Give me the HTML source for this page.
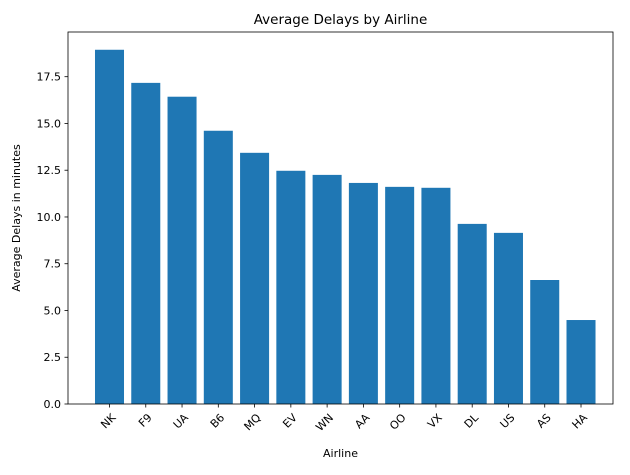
<!DOCTYPE html>
<html><head><meta charset="utf-8"><style>
body{margin:0;background:#fff;font-family:"Liberation Sans","DejaVu Sans",sans-serif;}
svg text{font-family:"DejaVu Sans","Liberation Sans",sans-serif;}
</style></head><body>
<svg id="chart" width="630" height="470" xmlns="http://www.w3.org/2000/svg"></svg>
<script>
const categories=["NK","F9","UA","B6","MQ","EV","WN","AA","OO","VX","DL","US","AS","HA"];
const delays=[18.94,17.17,16.43,14.61,13.43,12.47,12.25,11.82,11.61,11.56,9.63,9.15,6.63,4.49];
const yTicks=[0,2.5,5,7.5,10,12.5,15,17.5];
const yTickLabels=["0.0","2.5","5.0","7.5","10.0","12.5","15.0","17.5"];
const NS="http://www.w3.org/2000/svg";
const svg=document.getElementById('chart');
const L=68,R=613,T=32,B=404;
const yMax=19.89;
const x0=109.5,step=36.27;
const x=v=>x0+v*step;
const y=v=>B-v/yMax*(B-T);
function mk(tag,attrs){const e=document.createElementNS(NS,tag);for(const k in attrs)e.setAttribute(k,attrs[k]);svg.appendChild(e);return e;}
const bw=step*0.8;
delays.forEach((d,i)=>{
 const r=mk('rect',{x:x(i)-bw/2,y:y(d),width:bw,height:B-y(d),fill:'#1f77b4'});
 
 
 mk('line',{x1:x(i),x2:x(i),y1:B,y2:B+3.5,stroke:'#000','stroke-width':0.8});
 const t=mk('text',{x:x(i)+3,y:B+15,'font-size':11,'text-anchor':'end',transform:`rotate(-45 ${x(i)+4} ${B+10})`});
 t.textContent=categories[i];
 
 
});
yTicks.forEach((v,i)=>{
 mk('line',{x1:L-3.5,x2:L,y1:y(v),y2:y(v),stroke:'#000','stroke-width':0.8});
 const t=mk('text',{x:L-7,y:y(v)+4,'font-size':11,'text-anchor':'end'});
 t.textContent=yTickLabels[i];
 
 
});
const frame=mk('rect',{x:L,y:T,width:R-L,height:B-T,fill:'none',stroke:'#000','stroke-width':0.8});


const title=mk('text',{x:(L+R)/2,y:T-8,'font-size':13.5,'text-anchor':'middle'});
title.textContent='Average Delays by Airline';


const xt=mk('text',{x:(L+R)/2,y:457,'font-size':11,'text-anchor':'middle'});
xt.textContent='Airline';


const yt=mk('text',{x:0,y:0,'font-size':11,'text-anchor':'middle',transform:`translate(20 ${(T+B)/2}) rotate(-90)`});
yt.textContent='Average Delays in minutes';


</script>
</body></html>
